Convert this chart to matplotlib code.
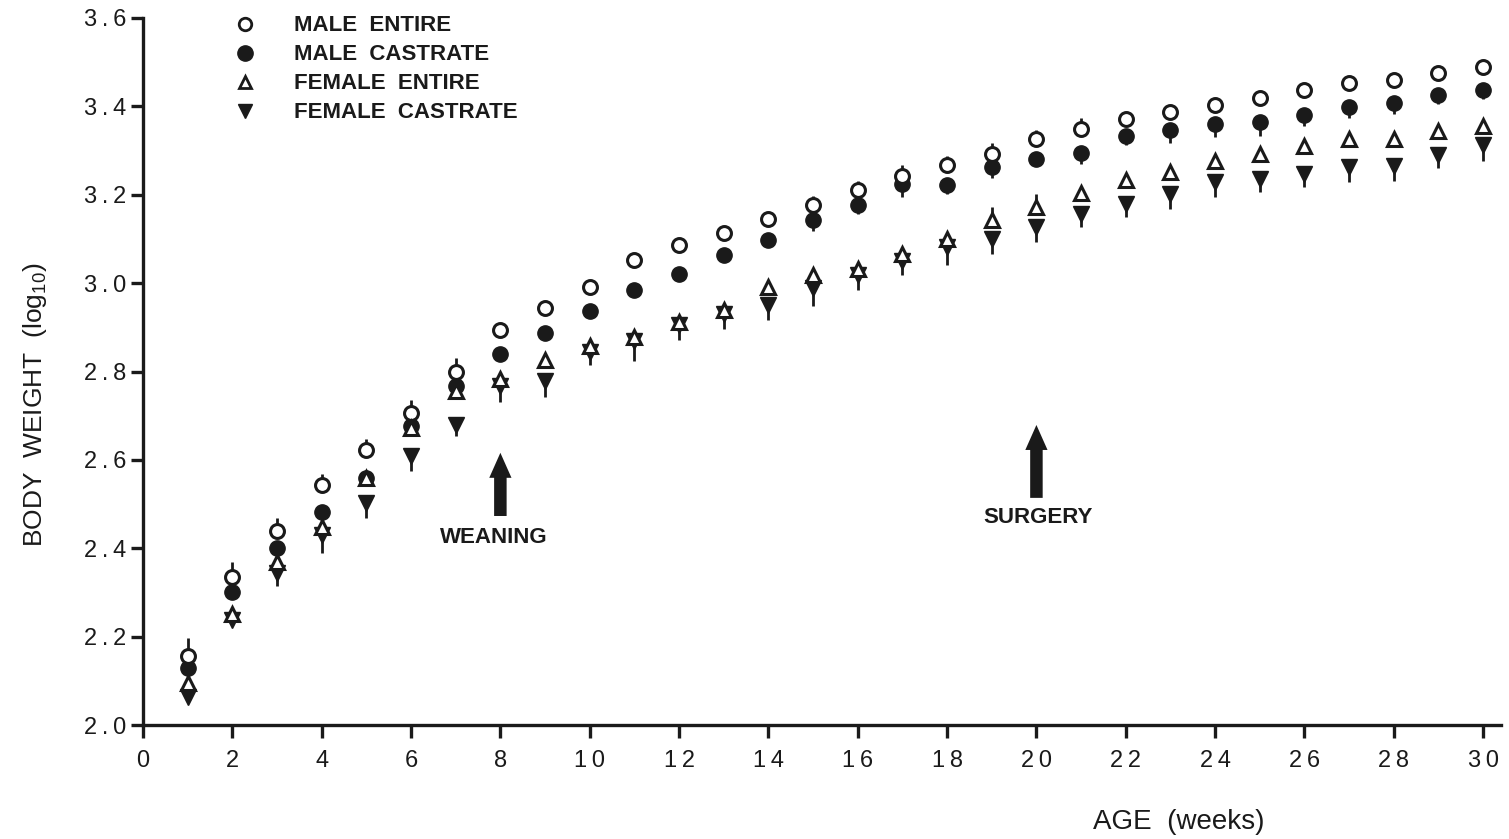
import matplotlib
matplotlib.use("Agg")
import matplotlib.pyplot as plt
from matplotlib.lines import Line2D

plt.rcParams['font.family'] = ['Liberation Sans', 'DejaVu Sans']
plt.rcParams['mathtext.fontset'] = 'custom'
plt.rcParams['mathtext.rm'] = 'Liberation Sans'

weeks = list(range(1, 31))

male_entire = [2.156, 2.334, 2.438, 2.543, 2.622, 2.706, 2.800, 2.893, 2.943, 2.992,
               3.053, 3.087, 3.114, 3.145, 3.177, 3.211, 3.242, 3.267, 3.292, 3.326,
               3.348, 3.371, 3.387, 3.402, 3.420, 3.436, 3.454, 3.459, 3.475, 3.490]
male_castrate = [2.128, 2.300, 2.400, 2.483, 2.560, 2.676, 2.767, 2.839, 2.888, 2.936,
                 2.985, 3.021, 3.064, 3.098, 3.143, 3.177, 3.224, 3.222, 3.263, 3.281,
                 3.294, 3.333, 3.346, 3.360, 3.364, 3.380, 3.398, 3.407, 3.425, 3.436]
female_entire = [2.095, 2.252, 2.370, 2.447, 2.560, 2.672, 2.755, 2.782, 2.825, 2.857,
                 2.879, 2.913, 2.940, 2.992, 3.019, 3.033, 3.067, 3.100, 3.143, 3.172,
                 3.204, 3.233, 3.251, 3.276, 3.292, 3.310, 3.326, 3.326, 3.344, 3.355]
female_castrate = [2.063, 2.237, 2.345, 2.430, 2.503, 2.609, 2.680, 2.767, 2.778, 2.845,
                   2.868, 2.906, 2.931, 2.951, 2.988, 3.019, 3.049, 3.082, 3.100, 3.127,
                   3.157, 3.179, 3.202, 3.229, 3.236, 3.247, 3.263, 3.265, 3.290, 3.312]

# estimated standard errors (one-sided bars as drawn)
male_entire_se = [0.04, 0.035, 0.03, 0.025, 0.025, 0.03, 0.03, 0.0, 0.0, 0.0,
                  0.0, 0.0, 0.0, 0.0, 0.02, 0.02, 0.025, 0.02, 0.025, 0.02,
                  0.025, 0.015, 0.0, 0.0, 0.0, 0.0, 0.0, 0.0, 0.0, 0.0]
male_castrate_se = [0.0, 0.0, 0.0, 0.0, 0.0, 0.0, 0.0, 0.0, 0.0, 0.0,
                    0.0, 0.0, 0.0, 0.0, 0.025, 0.02, 0.03, 0.02, 0.025, 0.0,
                    0.025, 0.02, 0.03, 0.03, 0.03, 0.025, 0.025, 0.025, 0.02, 0.02]
female_entire_se = [0.0, 0.0, 0.0, 0.0, 0.0, 0.0, 0.0, 0.0, 0.0, 0.0,
                    0.0, 0.0, 0.0, 0.0, 0.0, 0.0, 0.0, 0.0, 0.03, 0.03,
                    0.0, 0.0, 0.0, 0.0, 0.0, 0.0, 0.0, 0.0, 0.0, 0.0]
female_castrate_se = [0.0, 0.0, 0.03, 0.04, 0.035, 0.035, 0.025, 0.035, 0.035, 0.03,
                      0.045, 0.035, 0.035, 0.035, 0.04, 0.035, 0.03, 0.04, 0.035, 0.035,
                      0.03, 0.03, 0.035, 0.035, 0.03, 0.03, 0.035, 0.035, 0.03, 0.035]

labels = ["MALE  ENTIRE", "MALE  CASTRATE", "FEMALE  ENTIRE", "FEMALE  CASTRATE"]
xticks = list(range(0, 31, 2))
yticks = [2.0, 2.2, 2.4, 2.6, 2.8, 3.0, 3.2, 3.4, 3.6]

TS = '\u2009'


def spaced(s):
    return TS.join(s)


fig = plt.figure(figsize=(15.09, 8.39), dpi=100)
# x: 0 -> 143 px, 30 -> 1483 px ; y: 2.0 -> 725 px, 3.6 -> 18 px
ax = fig.add_axes([143 / 1509, (839 - 725) / 839, 1358 / 1509, 707 / 839])

K = '#1a1a1a'
ax.errorbar(weeks, male_entire, yerr=[[0] * 30, male_entire_se], fmt='none',
            ecolor=K, elinewidth=2, capsize=0, zorder=2)
ax.errorbar(weeks, male_castrate, yerr=[male_castrate_se, [0] * 30], fmt='none',
            ecolor=K, elinewidth=2, capsize=0, zorder=2)
ax.errorbar(weeks, female_entire, yerr=[[0] * 30, female_entire_se], fmt='none',
            ecolor=K, elinewidth=2, capsize=0, zorder=2)
ax.errorbar(weeks, female_castrate, yerr=[female_castrate_se, [0] * 30], fmt='none',
            ecolor=K, elinewidth=2, capsize=0, zorder=2)

ax.plot(weeks, male_entire, linestyle='none', marker='o', markersize=10,
        markerfacecolor='white', markeredgecolor=K, markeredgewidth=2.2, zorder=4)
ax.plot(weeks, male_castrate, linestyle='none', marker='o', markersize=11,
        markerfacecolor=K, markeredgecolor=K, zorder=3)
ax.plot(weeks, female_entire, linestyle='none', marker='^', markersize=10,
        markerfacecolor='white', markeredgecolor=K, markeredgewidth=2.2, zorder=4)
ax.plot(weeks, female_castrate, linestyle='none', marker='v', markersize=11,
        markerfacecolor=K, markeredgecolor=K, zorder=3)

ax.set_xlim(0, 30.4)
ax.set_ylim(2.0, 3.6)
ax.spines['top'].set_visible(False)
ax.spines['right'].set_visible(False)
ax.spines['left'].set_linewidth(2.4)
ax.spines['bottom'].set_linewidth(2.4)
ax.spines['left'].set_color(K)
ax.spines['bottom'].set_color(K)
ax.set_xticks(xticks)
ax.set_xticklabels([spaced(str(t)) for t in xticks])
ax.set_yticks(yticks)
ax.set_yticklabels([spaced(f"{t:.1f}") for t in yticks])
ax.tick_params(axis='both', direction='out', length=9, width=2.4, colors=K,
               labelsize=17)
ax.tick_params(axis='x', pad=9)
ax.tick_params(axis='y', pad=3)

fig.text(35 / 1509, 1 - 405 / 839, r"BODY  WEIGHT  (log$_{10}$)", fontsize=19,
         color=K, rotation=90, ha='center', va='center')
fig.text(1179 / 1509, 1 - 822 / 839, "AGE  (weeks)", fontsize=20, color=K,
         ha='center', va='center')

arrow_kw = dict(arrowstyle="simple,head_width=0.8,head_length=0.9,tail_width=0.45",
                color=K, lw=0, shrinkA=0, shrinkB=0, mutation_scale=20)
ax.annotate("", xy=(8, 2.616), xytext=(8, 2.473), arrowprops=arrow_kw)
ax.text(7.86, 2.424, "WEANING", ha='center', va='center', fontsize=16,
        fontweight='bold', color=K)
ax.annotate("", xy=(20, 2.679), xytext=(20, 2.514), arrowprops=arrow_kw)
ax.text(20.03, 2.469, "SURGERY", ha='center', va='center', fontsize=16,
        fontweight='bold', color=K)

handles = [
    Line2D([], [], linestyle='none', marker='o', markersize=9, markerfacecolor='white',
           markeredgecolor=K, markeredgewidth=2),
    Line2D([], [], linestyle='none', marker='o', markersize=11, markerfacecolor=K,
           markeredgecolor=K),
    Line2D([], [], linestyle='none', marker='^', markersize=9, markerfacecolor='white',
           markeredgecolor=K, markeredgewidth=2),
    Line2D([], [], linestyle='none', marker='v', markersize=10, markerfacecolor=K,
           markeredgecolor=K),
]
leg = fig.legend(handles, labels, loc='upper left', bbox_to_anchor=(0.1507, 0.987),
                 frameon=False, handletextpad=1.6, labelspacing=0.36,
                 handlelength=1.2, borderaxespad=0.0, borderpad=0.2,
                 prop={'weight': 'bold', 'size': 16})
for t in leg.get_texts():
    t.set_color(K)

fig.savefig("out.png", dpi=100, facecolor='white')
